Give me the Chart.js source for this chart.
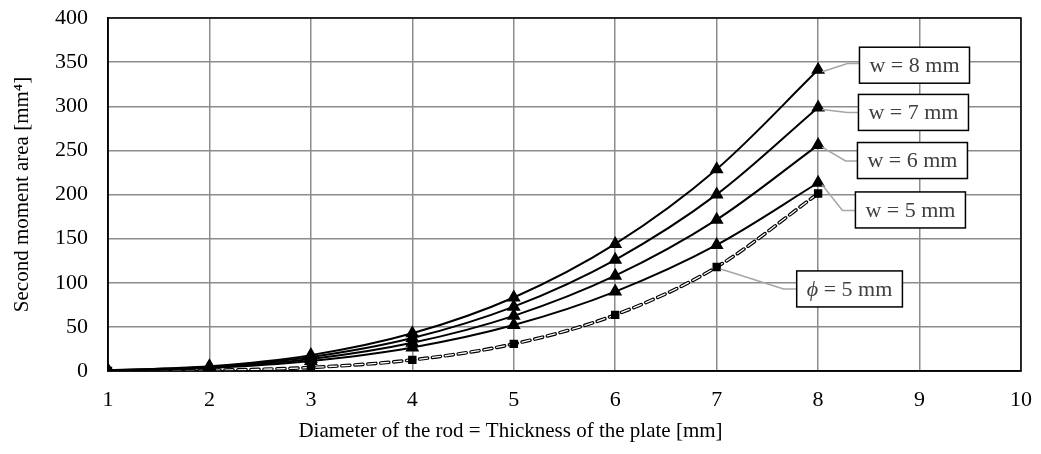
<!DOCTYPE html>
<html>
<head>
<meta charset="utf-8">
<script src="https://cdn.jsdelivr.net/npm/chart.js@4/dist/chart.umd.min.js"></script>
<style>
  html, body { margin: 0; padding: 0; background: #fff; }
  #wrap { width: 1041px; height: 454px; }
</style>
</head>
<body>
<div id="wrap"><canvas id="chart" width="1041" height="454"></canvas></div>
<script>
// thickness / diameter in mm
const thickness = [1, 2, 3, 4, 5, 6, 7, 8];

// second moment of area readings [mm^4]
const plateW5 = [0.4, 3.3, 11.3, 26.7, 52.1, 90, 142.9, 213.3];
const plateW6 = [0.5, 4, 13.5, 32, 62.5, 108, 171.5, 256];
const plateW7 = [0.6, 4.7, 15.8, 37.3, 72.9, 126, 200.1, 298.7];
const plateW8 = [0.7, 5.3, 18, 42.7, 83.3, 144, 228.7, 341.3];
const rodPhi5 = [0.05, 0.8, 4, 12.6, 30.7, 63.6, 117.9, 201.1];

const yTicks = [0, 50, 100, 150, 200, 250, 300, 350, 400];
const xTicks = [1, 2, 3, 4, 5, 6, 7, 8, 9, 10];

const seriesLabels = ['w = 5 mm', 'w = 6 mm', 'w = 7 mm', 'w = 8 mm', '\u03D5 = 5 mm'];

const FONT = '"Liberation Serif", "Times New Roman", serif';
const BOX_FONT = '22px ' + FONT;

function pts(ys) {
  return thickness.map((x, i) => ({ x, y: ys[i] }));
}

function plateSet(label, ys) {
  return {
    label,
    data: pts(ys),
    borderColor: '#000',
    borderWidth: 2,
    pointStyle: 'triangle',
    pointRadius: 6,
    pointBackgroundColor: '#000',
    pointBorderColor: '#000',
    cubicInterpolationMode: 'monotone',
    order: 1,
  };
}

// callout boxes: [series index, box centre x, box centre y, elbow x, elbow y] in data units
const callouts = [
  [3, 8.95, 346.5, 8.29, 348.5],
  [2, 8.94, 293, 8.29, 293],
  [1, 8.93, 238.5, 8.27, 238],
  [0, 8.91, 182.5, 8.24, 182],
  [4, 8.31, 93, 7.66, 93],
];

const calloutPlugin = {
  id: 'callouts',
  afterDatasetsDraw(chart) {
    const { ctx, scales } = chart;
    const xs = scales.x, ys = scales.y;
    const allSeries = [plateW5, plateW6, plateW7, plateW8, rodPhi5];
    ctx.save();
    callouts.forEach(([si, cx, cy, ex, ey]) => {
      const series = allSeries[si];
      const pointIdx = si === 4 ? 6 : 7;
      const px = xs.getPixelForValue(thickness[pointIdx]);
      const py = ys.getPixelForValue(series[pointIdx]);
      const bx = xs.getPixelForValue(cx);
      const by = ys.getPixelForValue(cy);
      const elx = xs.getPixelForValue(ex);
      const ely = ys.getPixelForValue(ey);
      const text = seriesLabels[si];
      ctx.font = BOX_FONT;
      const tw = ctx.measureText(text).width;
      const bw = tw + 20;
      const bh = 36;
      // leader line
      ctx.strokeStyle = '#a6a6a6';
      ctx.lineWidth = 1.5;
      ctx.beginPath();
      ctx.moveTo(px + 4, py + 2);
      ctx.lineTo(elx, ely);
      ctx.lineTo(bx - bw / 2, ely);
      ctx.stroke();
      // box
      ctx.fillStyle = '#fff';
      ctx.fillRect(bx - bw / 2, by - bh / 2, bw, bh);
      ctx.strokeStyle = '#000';
      ctx.lineWidth = 1.5;
      ctx.strokeRect(bx - bw / 2, by - bh / 2, bw, bh);
      ctx.fillStyle = '#404040';
      ctx.textBaseline = 'middle';
      if (si === 4) {
        ctx.font = 'italic ' + BOX_FONT;
        const phiW = ctx.measureText('\u03D5').width;
        ctx.font = BOX_FONT;
        const rest = ' = 5 mm';
        const rw = ctx.measureText(rest).width;
        const startX = bx - (phiW + rw) / 2;
        ctx.textAlign = 'left';
        ctx.font = 'italic ' + BOX_FONT;
        ctx.fillText('\u03D5', startX, by + 1);
        ctx.font = BOX_FONT;
        ctx.fillText(rest, startX + phiW, by + 1);
      } else {
        ctx.textAlign = 'center';
        ctx.fillText(text, bx, by + 1);
      }
    });
    ctx.restore();
  },
};

const chart = new Chart(document.getElementById('chart'), {
  type: 'line',
  data: {
    datasets: [
      plateSet(seriesLabels[0], plateW5),
      plateSet(seriesLabels[1], plateW6),
      plateSet(seriesLabels[2], plateW7),
      plateSet(seriesLabels[3], plateW8),
      {
        // white core of the hollow dashed line, with square markers
        label: seriesLabels[4],
        data: pts(rodPhi5),
        borderColor: '#fff',
        borderWidth: 1.3,
        borderDash: [8, 5],
        borderCapStyle: 'round',
        pointStyle: 'rect',
        pointRadius: 5,
        pointBackgroundColor: '#000',
        pointBorderColor: '#000',
        cubicInterpolationMode: 'monotone',
        order: 2,
      },
      {
        // black outline of the dashed line
        label: 'outline',
        data: pts(rodPhi5),
        borderColor: '#000',
        borderWidth: 3.6,
        borderDash: [8, 5],
        borderCapStyle: 'round',
        pointRadius: 0,
        cubicInterpolationMode: 'monotone',
        order: 3,
      },
    ],
  },
  options: {
    responsive: false,
    animation: false,
    devicePixelRatio: 1,
    layout: { padding: { left: 0, top: 18, right: 20, bottom: 0 } },
    plugins: {
      legend: { display: false },
      tooltip: { enabled: false },
      // x-axis title sits centred on the whole chart, not the plot area
      title: {
        display: true,
        position: 'bottom',
        text: 'Diameter of the rod = Thickness of the plate [mm]',
        color: '#000',
        padding: { top: 0, bottom: 10 },
        font: { family: FONT, size: 21, weight: 'normal' },
      },
    },
    scales: {
      x: {
        type: 'linear',
        min: 1,
        max: 10,
        afterBuildTicks: (s) => { s.ticks = xTicks.map((v) => ({ value: v })); },
        afterFit: (s) => { s.height = 47.8; s.paddingLeft = 0; s.paddingRight = 0; },
        grid: { color: '#8c8c8c', lineWidth: 1.5, drawTicks: false },
        border: { color: '#000', width: 1.5 },
        ticks: { color: '#000', padding: 16, font: { family: FONT, size: 22 } },
      },
      y: {
        min: 0,
        max: 400,
        afterBuildTicks: (s) => { s.ticks = yTicks.map((v) => ({ value: v })); },
        afterFit: (s) => { s.width = 108; s.paddingTop = 0; s.paddingBottom = 0; },
        grid: { color: '#8c8c8c', lineWidth: 1.5, drawTicks: false },
        border: { color: '#000', width: 1.5 },
        ticks: { color: '#000', padding: 20, font: { family: FONT, size: 22 } },
        title: {
          display: true,
          text: 'Second moment area [mm\u2074]',
          color: '#000',
          padding: { top: 10, bottom: 4 },
          font: { family: FONT, size: 21 },
        },
      },
    },
  },
  plugins: [
    calloutPlugin,
    {
      id: 'frame',
      afterDraw(c) {
        const a = c.chartArea;
        c.ctx.save();
        c.ctx.strokeStyle = '#000';
        c.ctx.lineWidth = 1.5;
        c.ctx.strokeRect(a.left, a.top, a.right - a.left, a.bottom - a.top);
        c.ctx.restore();
      },
    },
  ],
});
</script>
</body>
</html>
